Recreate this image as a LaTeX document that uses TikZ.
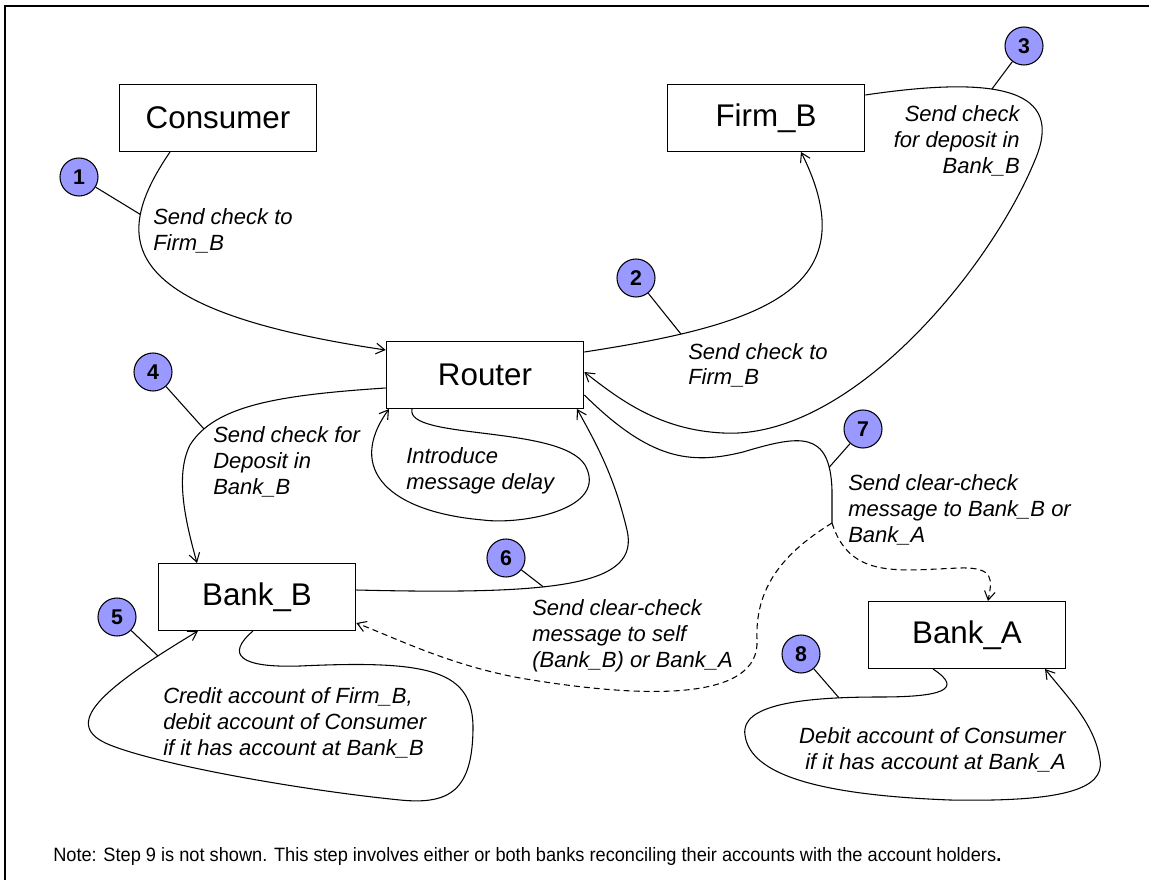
\documentclass[tikz,border=0pt]{standalone}
\usepackage{fontspec}
\setmainfont{Liberation Sans}
\usepackage{graphicx}
\usepackage{tikz}
\usetikzlibrary{arrows.meta,calc}
\definecolor{stepblue}{RGB}{153,153,255}

\begin{document}
\begin{tikzpicture}[
  x=0.75pt, y=-0.75pt,
  every node/.style={font=\fontsize{16.5}{19.5}\selectfont},
  box/.style={draw, line width=1pt, minimum width=148pt, minimum height=50pt,
              inner sep=0pt, font=\fontsize{23.5}{28}\selectfont},
  stepnum/.style={circle, draw, line width=0.8pt, fill=stepblue, minimum size=28.5pt,
                  inner sep=0pt, font=\fontsize{16}{16}\selectfont\bfseries},
  lbl/.style={inner sep=0pt, font=\fontsize{16.5}{19.5}\selectfont\itshape},
  wire/.style={line width=0.8pt},
  flow/.style={wire, -{Straight Barb[length=6.5pt, width=8pt]}},
  clear/.style={flow, dash pattern=on 4.5pt off 3pt},
]
\useasboundingbox (0,0) rectangle (1149,880);

%% Frame
\draw[line width=1.5pt] (5,880) |- (1149,6);

%% Parties
\node[box] (consumer) at (218,118) {Consumer};
\node[box] (firmb)    at (766,118) {Firm\_B};
\node[box] (router)   at (485,375) {Router};
\node[box] (bankb)    at (257,597) {Bank\_B};
\node[box] (banka)    at (967,635) {Bank\_A};

%% Step numbers
\node[stepnum] (s1) at (79,177)  {1};
\node[stepnum] (s2) at (636,278) {2};
\node[stepnum] (s3) at (1024,46) {3};
\node[stepnum] (s4) at (153,372) {4};
\node[stepnum] (s5) at (117,617) {5};
\node[stepnum] (s6) at (506,558) {6};
\node[stepnum] (s7) at (863,429) {7};
\node[stepnum] (s8) at (801,654) {8};

%% 1: Consumer -> Router
\draw[flow] ($(consumer.south)+(-48,0)$) .. controls (110,240) and (115,310)
  .. ($(router.west)+(0,-25)$) coordinate[pos=0.25] (t1);

%% 2: Router -> Firm_B
\draw[flow] ($(router.east)+(0,-23)$) .. controls (760,325) and (870,290)
  .. ($(firmb.south)+(35,0)$) coordinate[pos=0.2] (t2);

%% 3: Firm_B -> Router
\draw[flow] ($(firmb.east)+(0,-23)$) .. controls (1000,75) and (1065,90)
  .. (1035,160) coordinate[pos=0.4] (t3)
  .. controls (990,270) and (850,440) .. (723,433)
  .. controls (660,430) and (620,400) .. ($(router.east)+(0,-3)$);

%% 4: Router -> Bank_B
\draw[flow] ($(router.west)+(0,13)$) .. controls (280,395) and (215,405)
  .. (190,445) coordinate[pos=0.85] (t4)
  .. controls (175,475) and (185,520) .. ($(bankb.north)+(-60,0)$);

%% Router delay loop
\draw[flow] ($(router.south)+(-73,0)$) .. controls (405,440) and (560,425) .. (585,465)
  .. controls (610,510) and (520,525) .. (483,520)
  .. controls (390,512) and (345,470) .. ($(router.south)+(-96,0)$);

%% 5: Bank_B loop
\draw[flow] ($(bankb.south)+(-4,0)$) .. controls (225,655) and (240,668) .. (300,666)
  .. controls (430,660) and (474,670) .. (473,730)
  .. controls (472,790) and (450,805) .. (400,800)
  .. controls (300,790) and (160,765) .. (110,745)
  .. controls (60,725) and (100,690) .. ($(bankb.south)+(-59,0)$) coordinate[pos=0.85] (t5);

%% 6: Bank_B -> Router
\draw[flow] ($(bankb.east)+(0,-7)$) .. controls (560,595) and (640,585)
  .. (627,530) coordinate[pos=0.4] (t6)
  .. controls (615,480) and (600,450) .. ($(router.south)+(92,0)$);

%% 7: Router -> banks (clear-check)
\coordinate (split) at (832,523);
\draw[wire] ($(router.east)+(0,20)$) .. controls (650,460) and (690,465) .. (743,452)
  .. controls (800,435) and (830,430) .. (832,490) coordinate[pos=0.85] (t7)
  -- (split);
\draw[clear] (split) .. controls (850,580) and (900,570) .. (960,568)
  .. controls (995,567) and (992,580) .. ($(banka.north)+(21,0)$);
\draw[clear] (split) .. controls (780,555) and (755,590) .. (757,640)
  .. controls (760,700) and (650,700) .. (520,678)
  .. controls (450,665) and (400,640) .. ($(bankb.east)+(0,26)$);

%% 8: Bank_A loop
\draw[flow] ($(banka.south)+(-34,0)$) .. controls (965,690) and (940,697) .. (880,697)
  .. controls (800,697) and (740,705) .. (745,735) coordinate[pos=0.18] (t8)
  .. controls (750,775) and (820,795) .. (950,800)
  .. controls (1060,802) and (1105,790) .. (1100,760)
  .. controls (1095,725) and (1070,700) .. ($(banka.south)+(78,0)$);

%% Leaders from step numbers
\foreach \i in {1,...,8} {
  \draw[wire] (s\i) -- (t\i);
}

%% Labels (base = last line)
\node[lbl, anchor=base west, align=left] (lbl1) at (153,251) {Send check to\\Firm\_B};
\node[lbl, anchor=base west, align=left] (lbl2) at (688,385) {Send check to\\Firm\_B};
\node[lbl, anchor=base east, align=right] (lbl3) at (1020,174) {Send check\\for deposit in\\Bank\_B};
\node[lbl, anchor=base west, align=left] (lbl4) at (213,494) {Send check for\\Deposit in\\Bank\_B};
\node[lbl, anchor=base west, align=left] (lbldelay) at (406,489) {Introduce\\message delay};
\node[lbl, anchor=base west, align=left] (lbl5) at (163,755)
  {Credit account of Firm\_B,\\debit account of Consumer\\if it has account at Bank\_B};
\node[lbl, anchor=base west, align=left] (lbl6) at (532,667)
  {Send clear-check\\message to self\\(Bank\_B) or Bank\_A};
\node[lbl, anchor=base west, align=left] (lbl7) at (848,542)
  {Send clear-check\\message to Bank\_B or\\Bank\_A};
\node[lbl, anchor=base east, align=right] (lbl8) at (1066,769)
  {Debit account of Consumer\\if it has account at Bank\_A};

%% Note
\node[anchor=base west, inner sep=0pt, font=\fontsize{14.5}{17}\selectfont] (note) at (53,861)
  {\resizebox{711pt}{\height}{Note: Step 9 is not shown. This step involves either or both banks reconciling their accounts with the account holders\textbf{.}}};

\end{tikzpicture}
\end{document}
